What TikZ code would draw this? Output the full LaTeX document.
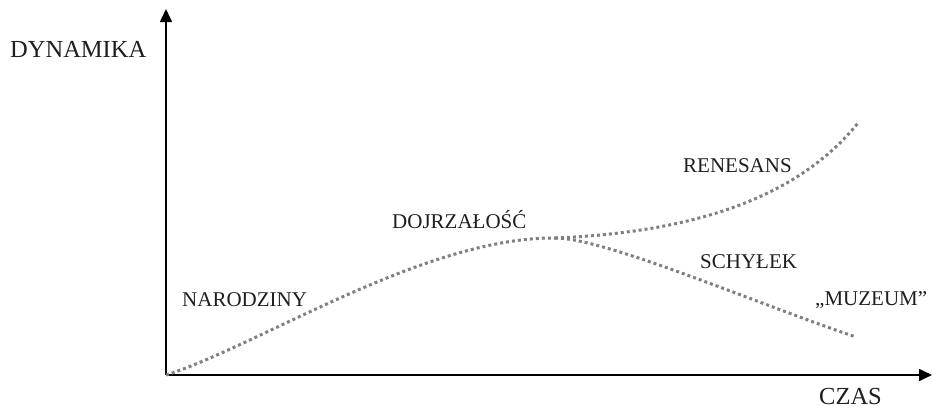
\documentclass[tikz,border=0pt]{standalone}
\usepackage{fontspec}
\setmainfont{Liberation Serif}
\usetikzlibrary{arrows.meta}
\definecolor{curvegray}{HTML}{808080}
\definecolor{inkgray}{HTML}{1E1E1E}
\tikzset{
  axisline/.style={line width=1.6pt, -{Triangle[length=13pt,width=12pt]}},
  phase/.style={draw=curvegray, line width=3pt, dash pattern=on 3pt off 3pt},
  axislabel/.style={anchor=base west, inner sep=0pt, text=inkgray, font=\fontsize{24.5}{28}\selectfont},
  stagelabel/.style={anchor=base west, inner sep=0pt, text=inkgray, font=\fontsize{21}{24}\selectfont},
}
\begin{document}
\begin{tikzpicture}[x=1pt, y=-1pt]
  \useasboundingbox (0,0) rectangle (932,405);

  % axes
  \coordinate (O) at (166,375);
  \coordinate (ytop) at (166,9);
  \coordinate (xend) at (932,375);
  \draw[axisline] (O) -- (ytop);
  \draw[axisline] (O) -- (xend);

  % growth curve and its two possible continuations
  \coordinate (peak) at (555,238);
  \coordinate (rise) at (858,123);
  \coordinate (fall) at (856,337);
  \draw[phase] (O) .. controls (260,345) and (425,237) .. (peak);
  \draw[phase] (peak) .. controls (700,232) and (800,195) .. (rise);
  \draw[phase] (peak) .. controls (605,238) and (755,303) .. (fall);

  % axis labels
  \node[axislabel] (ylab) at (10,57) {DYNAMIKA};
  \node[axislabel] (xlab) at (819,404) {CZAS};

  % stage labels
  \node[stagelabel] (birth)   at (182,306) {NARODZINY};
  \node[stagelabel] (mature)  at (392,228) {DOJRZAŁOŚĆ};
  \node[stagelabel] (renew)   at (683,172) {RENESANS};
  \node[stagelabel] (decline) at (700,268) {SCHYŁEK};
  \node[stagelabel] (museum)  at (815,305) {„MUZEUM”};
\end{tikzpicture}
\end{document}
